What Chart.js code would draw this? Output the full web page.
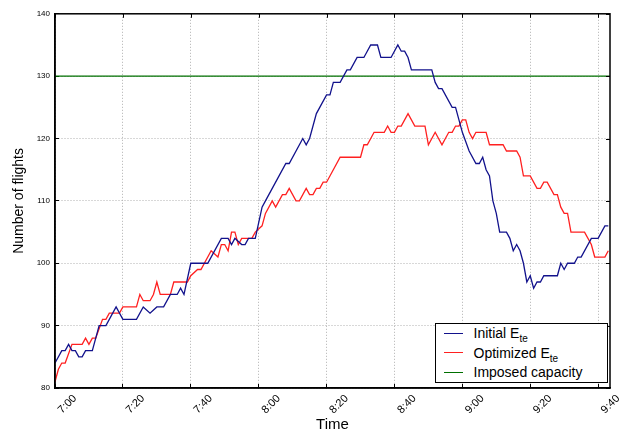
<!DOCTYPE html>
<html>
<head>
<meta charset="utf-8">
<script src="https://cdn.jsdelivr.net/npm/chart.js@4.4.1/dist/chart.umd.min.js"></script>
<style>
html,body{margin:0;padding:0;background:#fff;}
#wrap{position:relative;width:625px;height:437px;}
#legend{position:absolute;background:#fff;border:1px solid #000;font-family:"Liberation Sans",Arial,sans-serif;font-size:14px;color:#000;box-sizing:border-box;padding:0;width:173px;height:60px;}
.row{display:flex;align-items:center;height:19.5px;white-space:nowrap;}
.sw{width:19px;height:0;border-top:1.3px solid;margin:0 11px 0 8px;}
sub{font-size:10px;vertical-align:-4px;line-height:0;}
</style>
</head>
<body>
<div id="wrap"><canvas id="c" width="625" height="437"></canvas><div id="legend"></div></div>
<script>
// ---- data (minutes after 7:00) ----
const timeTickMinutes = [0, 20, 40, 60, 80, 100, 120, 140, 160];
const timeTickLabels = ['7:00', '7:20', '7:40', '8:00', '8:20', '8:40', '9:00', '9:20', '9:40'];
const yTickValues = [80, 90, 100, 110, 120, 130, 140];

const initialMinutes = [0,2,3,4,5,6,7,8,9,11,13,15,18,20,24,26,28,30,32,34,36,37,38,40,45,49,51,52,53,55,56,57,59,61,62,68,69,73,74,75,77,80,81,82,84,86,87,89,91,93,95,96,99,101,102,103,104,105,111,112,113,114,117,118,120,122,124,125,126,127,128,129,130,131,133,134,135,136,137,138,139,140,141,142,143,144,148,149,150,151,153,154,155,158,160,162,163];
const initialFlights = [84,86,86,87,86,86,85,85,86,86,90,90,93,91,91,93,92,93,93,95,95,96,95,100,100,104,104,103,104,103,103,104,104,109,110,116,116,120,119,120,124,127,127,129,129,131,131,133,133,135,135,133,133,135,134,134,133,131,131,129,128,128,125,125,121,118,116,116,117,115,114,110,108,105,105,104,102,103,102,100,97,98,96,97,97,98,98,100,99,100,100,101,101,104,104,106,106];

const optimizedMinutes = [0,1,2,3,5,8,9,10,11,12,14,15,16,19,20,24,25,26,28,29,30,31,34,35,39,40,42,43,46,48,49,50,51,52,53,54,55,58,59,61,62,64,65,67,68,69,71,72,74,75,76,77,78,79,80,84,90,91,92,94,97,98,99,100,101,102,104,106,109,110,112,114,116,117,118,119,120,121,122,123,124,127,128,132,133,136,137,138,140,142,143,144,145,147,148,149,150,151,152,156,158,159,162,163];
const optimizedFlights = [81,83,84,84,87,87,88,87,88,88,91,91,92,92,93,93,95,94,94,95,97,95,95,97,97,98,99,99,102,101,103,103,102,105,105,103,104,104,105,106,108,110,109,111,111,112,110,110,112,111,111,112,112,113,113,117,117,119,119,121,121,122,121,121,122,122,124,122,122,119,121,119,121,121,122,122,123,123,121,120,121,121,119,119,118,118,117,114,114,112,112,113,113,111,111,109,108,108,105,105,103,101,101,102];

const capacity = 130;
const X_MIN = 0, X_MAX = 163.5;

const seriesNames = ['Initial E', 'Optimized E', 'Imposed capacity'];
const seriesSubs = ['te', 'te', ''];
const seriesColors = ['#12128c', '#ff2020', '#007000'];

// ---- chart ----
const FAM = '"Liberation Sans", Arial, sans-serif';
const toPts = (xs, ys) => xs.map((x, i) => ({x: x, y: ys[i]}));

const legendEl = document.getElementById('legend');
legendEl.innerHTML = seriesNames.map((n, i) =>
  '<div class="row"><span class="sw" style="border-top-color:' + seriesColors[i] + '"></span><span>' + n +
  (seriesSubs[i] ? '<sub>' + seriesSubs[i] + '</sub>' : '') + '</span></div>').join('');

const framePlugin = {
  id: 'frame',
  afterDatasetsDraw(chart) {
    const {ctx, chartArea: a, scales} = chart;
    ctx.save();
    ctx.strokeStyle = '#000';
    ctx.lineWidth = 1;
    ctx.beginPath();
    timeTickMinutes.forEach(v => { const px = Math.round(scales.x.getPixelForValue(v)) + 0.5; ctx.moveTo(px, a.top); ctx.lineTo(px, a.top + 4); });
    yTickValues.forEach(v => { const py = Math.round(scales.y.getPixelForValue(v)) + 0.5; ctx.moveTo(a.right, py); ctx.lineTo(a.right - 4, py); });
    ctx.stroke();
    ctx.lineWidth = 1.5;
    ctx.strokeRect(a.left, a.top, a.right - a.left, a.bottom - a.top);
    ctx.restore();
  }
};
const legendPlugin = {
  id: 'htmlLegend',
  afterDraw(chart) {
    const a = chart.chartArea;
    legendEl.style.left = (a.right - 2.5 - 173) + 'px';
    legendEl.style.top = (a.bottom - 5.5 - 60) + 'px';
  }
};

new Chart(document.getElementById('c'), {
  type: 'line',
  data: {
    datasets: [
      {label: seriesNames[0] + seriesSubs[0], data: toPts(initialMinutes, initialFlights), borderColor: seriesColors[0], borderWidth: 1.3, pointRadius: 0, tension: 0, fill: false},
      {label: seriesNames[1] + seriesSubs[1], data: toPts(optimizedMinutes, optimizedFlights), borderColor: seriesColors[1], borderWidth: 1.3, pointRadius: 0, tension: 0, fill: false},
      {label: seriesNames[2], data: [{x: X_MIN, y: capacity}, {x: X_MAX, y: capacity}], borderColor: seriesColors[2], borderWidth: 1.3, pointRadius: 0, tension: 0, fill: false}
    ]
  },
  options: {
    responsive: false,
    animation: false,
    devicePixelRatio: 1,
    parsing: true,
    layout: {padding: {left: 0, right: 15, top: 8, bottom: 0}},
    plugins: {legend: {display: false}, tooltip: {enabled: false}},
    scales: {
      x: {
        type: 'linear', min: X_MIN, max: X_MAX,
        afterBuildTicks: s => { s.ticks = timeTickMinutes.map(v => ({value: v})); },
        afterFit: s => { s.height = 49; },
        ticks: {
          autoSkip: false, maxRotation: 45, minRotation: 45,
          callback: (v, i) => timeTickLabels[i],
          font: {family: FAM, size: 11}, color: '#000', padding: 8, labelOffset: 20
        },
        grid: {color: '#b0b0b0', lineWidth: 1, tickLength: -4, tickColor: '#000', tickWidth: 1},
        border: {display: true, color: '#000', width: 1.5, dash: [1, 2]},
        title: {display: true, text: 'Time', font: {family: FAM, size: 15}, color: '#000', padding: {top: 0, bottom: 3}}
      },
      y: {
        type: 'linear', min: 80, max: 140,
        afterBuildTicks: s => { s.ticks = yTickValues.map(v => ({value: v})); },
        afterFit: s => { s.width = 55; },
        ticks: {font: {family: FAM, size: 8}, color: '#000', padding: 9},
        grid: {color: '#b0b0b0', lineWidth: 1, tickLength: -4, tickColor: '#000', tickWidth: 1},
        border: {display: true, color: '#000', width: 1.5, dash: [1, 2]},
        title: {display: true, text: 'Number of flights', font: {family: FAM, size: 14}, color: '#000', padding: {top: 11, bottom: 0}}
      }
    }
  },
  plugins: [framePlugin, legendPlugin]
});
</script>
</body>
</html>
